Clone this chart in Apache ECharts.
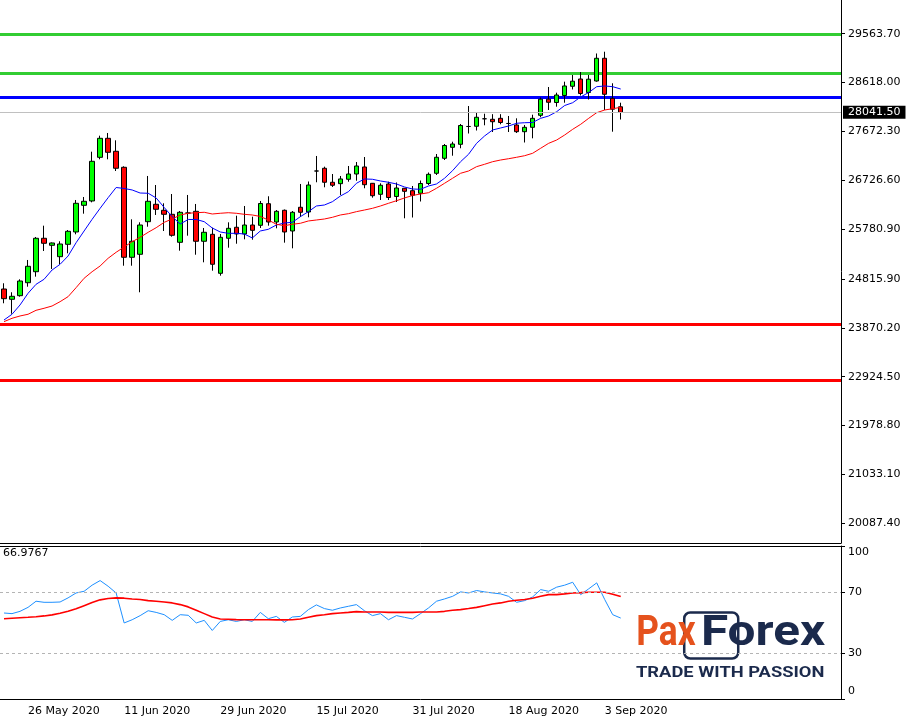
<!DOCTYPE html>
<html>
<head>
<meta charset="utf-8">
<script src="https://cdn.jsdelivr.net/npm/echarts@6/dist/echarts.min.js"></script>
<style>
html,body{margin:0;padding:0;background:#fff;}
#chart{width:911px;height:717px;}
</style>
</head>
<body>
<div id="chart"></div>
<script>
// ---------- DATA ----------
const dates = ['21 May 2020','22 May 2020','25 May 2020','26 May 2020','27 May 2020','28 May 2020','29 May 2020',
'1 Jun 2020','2 Jun 2020','3 Jun 2020','4 Jun 2020','5 Jun 2020','8 Jun 2020','9 Jun 2020','10 Jun 2020','11 Jun 2020','12 Jun 2020',
'15 Jun 2020','16 Jun 2020','17 Jun 2020','18 Jun 2020','19 Jun 2020','22 Jun 2020','23 Jun 2020','24 Jun 2020','25 Jun 2020','26 Jun 2020',
'29 Jun 2020','30 Jun 2020','1 Jul 2020','2 Jul 2020','3 Jul 2020','6 Jul 2020','7 Jul 2020','8 Jul 2020','9 Jul 2020','10 Jul 2020',
'13 Jul 2020','14 Jul 2020','15 Jul 2020','16 Jul 2020','17 Jul 2020','20 Jul 2020','21 Jul 2020','22 Jul 2020','23 Jul 2020','24 Jul 2020',
'27 Jul 2020','28 Jul 2020','29 Jul 2020','30 Jul 2020','31 Jul 2020','3 Aug 2020','4 Aug 2020','5 Aug 2020','6 Aug 2020','7 Aug 2020',
'10 Aug 2020','11 Aug 2020','12 Aug 2020','13 Aug 2020','14 Aug 2020','17 Aug 2020','18 Aug 2020','19 Aug 2020','20 Aug 2020','21 Aug 2020',
'24 Aug 2020','25 Aug 2020','26 Aug 2020','27 Aug 2020','28 Aug 2020','31 Aug 2020','1 Sep 2020','2 Sep 2020','3 Sep 2020','4 Sep 2020','7 Sep 2020'];

const shownDateLabels = ['26 May 2020','11 Jun 2020','29 Jun 2020','15 Jul 2020','31 Jul 2020','18 Aug 2020','3 Sep 2020'];

const openP = [24622,24423,24493,24744,24957,25604,25468,25248,25487,25726,26242,26326,27171,27539,27288,26978,25236,25294,25925,26262,
26146,26068,25526,26093,26126,25546,25681,24926,25604,25817,25687,25861,25855,26273,25919,26146,25745,26204,26113,26906,
26959,26688,26661,26746,26848,26984,26668,26455,26655,26413,26572,26525,26475,26664,26862,27152,27365,27423,27768,27772,
27917,27907,27926,27826,27797,27667,27752,27984,28296,28232,28368,28546,28687,28426,28648,29088,28313,28149];
const closeP = [24435,24481,24777,25062,25604,25507,25513,25493,25739,26281,26320,27094,27539,27268,26959,25236,25546,25861,26320,26165,
26068,25662,26107,26093,25546,25720,25101,25623,25797,25687,25861,25758,26277,25919,26126,25726,26107,26107,26635,26906,
26688,26630,26752,26848,27003,26641,26428,26630,26393,26577,26513,26436,26664,26842,27172,27400,27429,27787,27768,27946,
27917,27860,27845,27826,27667,27752,27926,28296,28236,28377,28552,28644,28406,28683,29088,28391,28102,28041.5];
const lowP = [24346,24144,24474,24667,24861,25358,25010,25101,25313,25681,26080,26300,27133,27133,26906,25073,25073,24559,25828,26055,
25745,25635,25364,25654,25286,25139,24977,24880,25422,25499,25584,25577,25803,25848,25797,25519,25410,26016,26010,26688,
26591,26597,26442,26699,26718,26572,26390,26345,26345,26306,25991,26006,26316,26635,26829,27119,27202,27346,27632,27690,
27791,27661,27810,27661,27642,27458,27539,27946,28087,28151,28228,28484,28368,28290,28635,28087,27667,27903];
const highP = [24733,24559,24810,25184,25629,25848,25523,25546,25764,26345,26403,27280,27590,27642,27500,26997,25971,25913,26810,26635,
26281,26461,26132,26442,26268,25803,25809,25687,25913,26041,26229,26022,26326,26417,26151,26161,26132,26655,26703,27197,
26990,26848,26810,27003,27080,27177,26674,26668,26699,26684,26577,26616,26722,26877,27235,27429,27473,27816,28164,28039,
28015,28006,28006,27971,27926,27797,27996,28329,28532,28422,28635,28764,28822,28764,29181,29215,28604,28228];

const maFast = [24022,24133,24313,24539,24713,24810,24990,25100,25261,25518,25745,25971,26184,26390,26587,26568,26539,26480,26475,26384,
26200,26022,25880,25968,25968,25925,25803,25726,25700,25700,25687,25610,25745,25778,25861,25900,25913,26022,26119,26229,
26248,26312,26422,26506,26668,26752,26746,26713,26688,26655,26597,26558,26552,26616,26655,26765,26912,27086,27230,27442,
27584,27700,27739,27777,27830,27841,27845,27926,27971,28054,28174,28228,28339,28426,28538,28552,28538,28493];
const maSlow = [23990,24055,24100,24133,24210,24249,24293,24377,24474,24648,24830,24957,25068,25217,25333,25435,25538,25623,25720,25809,
25913,25977,26055,26088,26099,26107,26074,26088,26099,26088,26068,26055,26026,25958,25875,25848,25875,25894,25939,25958,
25977,26010,26055,26080,26119,26151,26184,26229,26281,26331,26384,26432,26461,26486,26572,26668,26765,26862,26906,26990,
27036,27086,27119,27144,27172,27202,27249,27346,27442,27506,27603,27713,27810,27926,28035,28087,28112,28139];

const oscMain = [56.2,55.8,57.3,59.9,63.9,63.2,63.2,63.4,66.1,69.3,70.4,74.4,77.4,73.7,69.3,49.7,51.8,54.5,57.7,56.6,
55.1,51.4,55.1,54.7,49.7,51.4,44.8,50.7,51.8,50.7,51.8,50.7,56.6,52.5,54.0,50.1,53.6,54.0,58.4,61.5,
59.1,58.0,59.5,60.6,61.7,57.7,54.5,55.8,51.8,54.5,53.4,52.3,55.8,59.5,63.9,65.4,67.1,70.0,69.3,70.9,
70.0,69.3,68.7,67.1,63.2,64.3,66.7,71.5,70.4,73.1,74.4,76.3,68.2,72.0,75.9,65.0,55.1,52.9];
const oscSignal = [52.5,52.8,53.1,53.4,53.8,54.3,55.0,56.0,57.3,59.0,61.0,63.0,64.8,65.7,66.1,65.9,65.4,65.0,64.3,63.9,
63.4,62.8,61.7,60.2,58.0,55.8,53.6,52.3,52.1,51.9,51.8,51.8,51.8,51.8,51.7,51.7,51.8,52.3,53.4,54.5,
55.1,55.8,56.2,56.6,57.1,56.9,56.9,56.9,56.6,56.6,56.6,56.6,56.9,56.9,56.9,57.3,58.0,58.4,59.1,59.9,
61.0,62.1,62.8,63.9,64.5,65.0,65.8,67.1,68.2,68.2,68.7,69.3,69.5,69.8,69.8,69.8,68.5,66.9767];

const priceTicks = [29563.70,28618.00,27672.30,26726.60,25780.90,24815.90,23870.20,22924.50,21978.80,21033.10,20087.40];
const oscTicks = [0,30,70,100];
const oscLevels = [30,70];
const greenLevels = [29560,28806];
const blueLevels = [28333];
const redLevels = [23945,22861];
const lastPrice = 28041.50;
const oscLastValue = '66.9767';

// ---------- CHART ----------
const FONT = 'DejaVu Sans';
const chart = echarts.init(document.getElementById('chart'), null, {renderer:'canvas'});
const candleData = openP.map((o,i)=>[o, closeP[i], lowP[i], highP[i]]);
const levelData = []
  .concat(greenLevels.map(v=>({yAxis:v, lineStyle:{color:'#32cd32', width:3, type:'solid'}})))
  .concat(blueLevels.map(v=>({yAxis:v, lineStyle:{color:'#0000ff', width:3, type:'solid'}})))
  .concat(redLevels.map(v=>({yAxis:v, lineStyle:{color:'#ff0000', width:3, type:'solid'}})));

const option = {
  animation:false,
  backgroundColor:'#ffffff',
  textStyle:{fontFamily:FONT},
  title:{text:oscLastValue, left:3, top:548, padding:0,
    textStyle:{fontSize:11, fontWeight:'normal', color:'#000', fontFamily:FONT}},
  grid:[
    {left:0, top:0, width:841, height:543, outerBoundsMode:'none', containLabel:false},
    {left:0, top:546, width:841, height:153, outerBoundsMode:'none', containLabel:false}
  ],
  xAxis:[
    {type:'category', gridIndex:0, data:dates, max:104, boundaryGap:true,
     axisLine:{show:true, lineStyle:{color:'#000', width:1}}, axisTick:{show:false}, axisLabel:{show:false}, splitLine:{show:false}},
    {type:'category', gridIndex:1, data:dates, max:104, boundaryGap:true,
     axisLine:{show:true, lineStyle:{color:'#000', width:1}}, axisTick:{show:false}, splitLine:{show:false},
     axisLabel:{show:true, align:'left', margin:7, color:'#000', fontSize:11, fontFamily:FONT,
       interval:function(idx, val){return shownDateLabels.indexOf(val) >= 0;}}},
    {type:'category', gridIndex:1, position:'top', data:dates, max:104, boundaryGap:true,
     axisLine:{show:true, lineStyle:{color:'#000', width:1}}, axisTick:{show:false}, axisLabel:{show:false}, splitLine:{show:false}}
  ],
  yAxis:[
    {type:'value', gridIndex:0, position:'right', min:19706, max:30216, scale:true,
     axisLine:{show:true, lineStyle:{color:'#000', width:1}},
     axisTick:{show:true, inside:false, length:4, lineStyle:{color:'#000'}, customValues:priceTicks},
     axisLabel:{show:true, customValues:priceTicks, margin:7, color:'#000', fontSize:11, fontFamily:FONT,
       formatter:function(v){return Number(v).toFixed(2);}},
     splitLine:{show:false}},
    {type:'value', gridIndex:1, position:'right', min:0, max:100,
     axisLine:{show:true, lineStyle:{color:'#000', width:1}},
     axisTick:{show:true, inside:false, length:4, lineStyle:{color:'#000'}, customValues:oscTicks},
     axisLabel:{show:true, customValues:oscTicks, margin:7, color:'#000', fontSize:11, fontFamily:FONT,
       formatter:function(v){ if(v===100) return '{t|100}'; if(v===0) return '{b|0}'; return String(v); },
       rich:{t:{padding:[13,0,0,0], fontSize:11, fontFamily:FONT, color:'#000'},
             b:{padding:[0,0,15,0], fontSize:11, fontFamily:FONT, color:'#000'}}},
     splitLine:{show:false}}
  ],
  series:[
    {name:'levels', type:'line', xAxisIndex:0, yAxisIndex:0, data:[], z:1, silent:true,
     markLine:{silent:true, z:1, symbol:['none','none'], label:{show:false}, data:levelData}},
    {name:'price', type:'candlestick', xAxisIndex:0, yAxisIndex:0, data:candleData, z:3, barWidth:5,
     itemStyle:{color:'#00ff00', color0:'#ff0000', borderColor:'#000', borderColor0:'#000', borderWidth:1}},
    {name:'maFast', type:'line', xAxisIndex:0, yAxisIndex:0, data:maFast, z:4, symbol:'none', silent:true,
     lineStyle:{color:'#0000ff', width:1}},
    {name:'maSlow', type:'line', xAxisIndex:0, yAxisIndex:0, data:maSlow, z:4, symbol:'none', silent:true,
     lineStyle:{color:'#ff0000', width:1}},
    {name:'last', type:'line', xAxisIndex:0, yAxisIndex:0, data:[], z:6, silent:true,
     markLine:{silent:true, z:6, symbol:['none','none'],
       lineStyle:{color:'#c0c0c0', width:1, type:'solid'},
       label:{show:true, position:'end', distance:2, formatter:lastPrice.toFixed(2), color:'#fff',
         backgroundColor:'#000', padding:[1,5,1,5], fontSize:11, fontFamily:FONT},
       data:[{yAxis:lastPrice}]}},
    {name:'osc', type:'line', xAxisIndex:1, yAxisIndex:1, data:oscMain, symbol:'none', silent:true, z:3,
     lineStyle:{color:'#1e90ff', width:1},
     markLine:{silent:true, symbol:['none','none'], label:{show:false},
       lineStyle:{color:'#b4b4b4', width:1, type:[3,3]},
       data:oscLevels.map(v=>({yAxis:v}))}},
    {name:'oscSignal', type:'line', xAxisIndex:1, yAxisIndex:1, data:oscSignal, symbol:'none', silent:true, z:4,
     lineStyle:{color:'#ff0000', width:1.6}}
  ],
  graphic:[
    {type:'group', left:636, top:610, children:[
      {type:'rect', shape:{x:49, y:2, width:54, height:46, r:6}, style:{fill:'none', stroke:'#1b2a4c', lineWidth:2.5}},
      {type:'text', x:1, y:24, scaleX:0.84, style:{text:'Pax', fill:'#e5521d', font:'bold 42px Roboto', verticalAlign:'middle', align:'left'}},
      {type:'text', x:190, y:24, scaleX:1.18, style:{text:'Forex', fill:'#1b2a4c', font:'bold 42px Roboto', verticalAlign:'middle', align:'right'}},
      {type:'text', x:95, y:63, scaleX:1.31, style:{text:'TRADE WITH PASSION', fill:'#1b2a4c', font:'bold 14px Roboto', verticalAlign:'middle', align:'center'}}
    ]}
  ]
};
chart.setOption(option);
</script>
</body>
</html>
